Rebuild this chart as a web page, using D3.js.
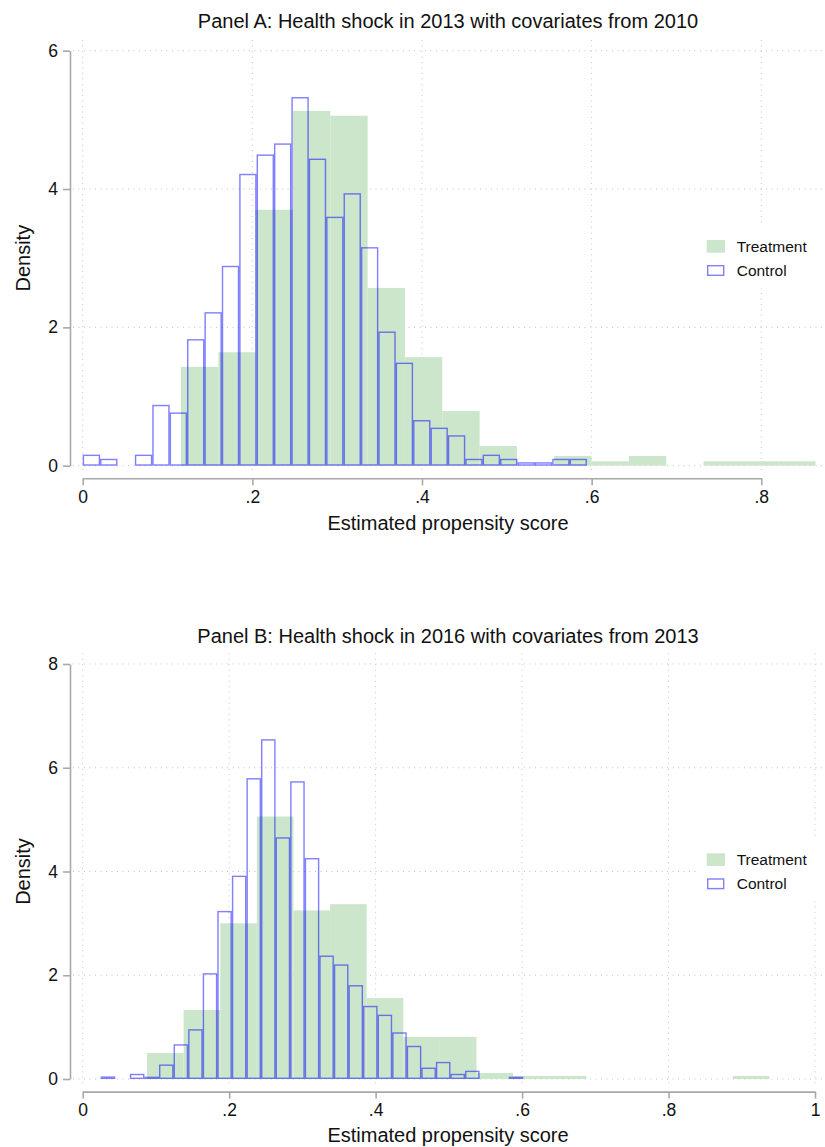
<!DOCTYPE html>
<html>
<head>
<meta charset="utf-8">
<script src="https://cdn.jsdelivr.net/npm/d3@7"></script>
<style>
  body { margin: 0; background: #fff; }
  svg { display: block; font-family: "Liberation Sans", Arial, sans-serif; }
</style>
</head>
<body>
<svg id="chart" width="825" height="1147"></svg>
<script>
// panel A: health shock 2013, covariates 2010
const titleA = "Panel A: Health shock in 2013 with covariates from 2010"
const xTicksA = [0, .2, .4, .6, .8]
const yTicksA = [0, 2, 4, 6]
const controlStartA = 0, controlWidthA = 0.0205
const controlA = [0.16, 0.10, 0, 0.16, 0.88, 0.77, 1.83, 2.22, 2.89, 4.22, 4.50, 4.66, 5.33, 4.44,
  3.60, 3.94, 3.16, 1.94, 1.49, 0.66, 0.55, 0.44, 0.10, 0.16, 0.10, 0.05, 0.05, 0.10, 0.10]
const treatStartA = 0.1159, treatWidthA = 0.0440
const treatA = [1.43, 1.64, 3.70, 5.13, 5.06, 2.57, 1.57, 0.79, 0.285, 0, 0.14, 0.064, 0.14, 0,
  0.064, 0.064, 0.064]

// panel B: health shock 2016, covariates 2013
const titleB = "Panel B: Health shock in 2016 with covariates from 2013"
const xTicksB = [0, .2, .4, .6, .8, 1]
const yTicksB = [0, 2, 4, 6, 8]
const controlStartB = 0.0246, controlWidthB = 0.0199
const controlB = [0.05, 0, 0.10, 0.045, 0.28, 0.67, 0.96, 2.04, 3.24, 3.92, 5.80, 6.55, 4.66, 5.74,
  4.26, 2.38, 2.21, 1.81, 1.41, 1.24, 0.90, 0.64, 0.22, 0.33, 0.10, 0.16, 0, 0, 0.045]
const treatStartB = 0.0878, treatWidthB = 0.05
const treatB = [0.50, 1.33, 3.0, 5.06, 3.25, 3.37, 1.56, 0.81, 0.81, 0.115, 0.058, 0.058, 0, 0,
  0, 0, 0.058]

const legendLabels = ["Treatment", "Control"]
const xTitle = "Estimated propensity score"
const yTitle = "Density"

const green = "#cce6cc"
const blue = "rgba(0,0,255,0.5)"
const gridCol = "#c4c4c4"
const axisCol = "#a9a9a9"
const textCol = "#111"

const svg = d3.select("#chart")

const toBins = (start, w, hs) => hs.map((h, i) => ({x0: start + i * w, x1: start + (i + 1) * w, h}))

const fmt = d => d === 0 ? "0" : d === 1 ? "1" : String(+d.toFixed(2)).replace(/^0/, "")

function panel(o) {
  const g = svg.append("g").attr("transform", `translate(0,${o.dy})`)
  const x = d3.scaleLinear().domain(o.xDomain).range(o.xRange)
  const y = d3.scaleLinear().domain([0, o.yMax]).range([465.7, 50.7])

  // grid
  g.append("g").selectAll("line").data(o.yTicks).join("line")
    .attr("x1", 73).attr("x2", 823)
    .attr("y1", d => y(d)).attr("y2", d => y(d))
    .attr("stroke", gridCol).attr("stroke-width", 1).attr("stroke-dasharray", "1,4.5")
  g.append("g").selectAll("line").data(o.xTicks).join("line")
    .attr("x1", d => x(d)).attr("x2", d => x(d))
    .attr("y1", 40).attr("y2", 471)
    .attr("stroke", gridCol).attr("stroke-width", 1).attr("stroke-dasharray", "1,4.5")

  // treatment bars
  g.append("g").selectAll("rect").data(o.treat).join("rect")
    .attr("x", d => x(d.x0)).attr("width", d => x(d.x1) - x(d.x0))
    .attr("y", d => y(d.h)).attr("height", d => y(0) - y(d.h))
    .attr("fill", green)

  // control bars
  g.append("g").selectAll("rect").data(o.control.filter(d => d.h > 0)).join("rect")
    .attr("x", d => x(d.x0) + 0.7).attr("width", d => x(d.x1) - x(d.x0) - 1.4)
    .attr("y", d => y(d.h) + 0.7).attr("height", d => Math.max(0, y(0) - y(d.h) - 1.4))
    .attr("fill", "none").attr("stroke", blue).attr("stroke-width", 1.4)

  // axes
  const yAxis = g.append("g").attr("transform", "translate(70,0)")
    .call(d3.axisLeft(y).tickValues(o.yTicks).tickSize(7).tickSizeOuter(0).tickPadding(5).tickFormat(d3.format("d")))
  const xAxis = g.append("g").attr("transform", "translate(0,478.3)")
    .call(d3.axisBottom(x).tickValues(o.xTicks).tickSize(7).tickSizeOuter(0).tickPadding(5).tickFormat(fmt))
  for (const a of [yAxis, xAxis]) {
    a.select(".domain").attr("stroke", axisCol).attr("stroke-width", 1.6)
    a.selectAll(".tick line").attr("stroke", axisCol).attr("stroke-width", 1.6)
    a.selectAll("text").attr("fill", textCol).attr("font-size", 17.5).attr("font-family", null)
  }

  // titles
  g.append("text").attr("x", 448).attr("y", o.titleY).attr("text-anchor", "middle")
    .attr("font-size", 20).attr("fill", textCol).text(o.title)
  g.append("text").attr("x", 448).attr("y", o.xTitleY).attr("text-anchor", "middle")
    .attr("font-size", 20).attr("fill", textCol).text(xTitle)
  g.append("text").attr("transform", `translate(29.5,${(y(0) + y(o.yMax)) / 2}) rotate(-90)`)
    .attr("text-anchor", "middle").attr("font-size", 20).attr("fill", textCol).text(yTitle)

  // legend
  const lg = g.append("g")
  lg.append("rect").attr("x", 698).attr("y", 226).attr("width", 124).attr("height", 62).attr("fill", "#fff")
  lg.append("rect").attr("x", 706.7).attr("y", 240).attr("width", 18.3).attr("height", 12.7).attr("fill", green)
  lg.append("rect").attr("x", 707.7).attr("y", 265.7).attr("width", 16).attr("height", 9.6)
    .attr("fill", "none").attr("stroke", blue).attr("stroke-width", 1.4)
  lg.selectAll("text").data(legendLabels).join("text")
    .attr("x", 736.7).attr("y", (d, i) => 251.5 + i * 24.5)
    .attr("font-size", 15.5).attr("fill", textCol).text(d => d)
}

panel({
  dy: 0, title: titleA, titleY: 28.3, xTitleY: 530, xDomain: [0, .8], xRange: [82.7, 761.3], yMax: 6,
  xTicks: xTicksA, yTicks: yTicksA,
  control: toBins(controlStartA, controlWidthA, controlA),
  treat: toBins(treatStartA, treatWidthA, treatA)
})
panel({
  dy: 613.3, title: titleB, titleY: 30, xTitleY: 528.5, xDomain: [0, 1], xRange: [82.7, 815], yMax: 8,
  xTicks: xTicksB, yTicks: yTicksB,
  control: toBins(controlStartB, controlWidthB, controlB),
  treat: toBins(treatStartB, treatWidthB, treatB)
})
</script>
</body>
</html>
